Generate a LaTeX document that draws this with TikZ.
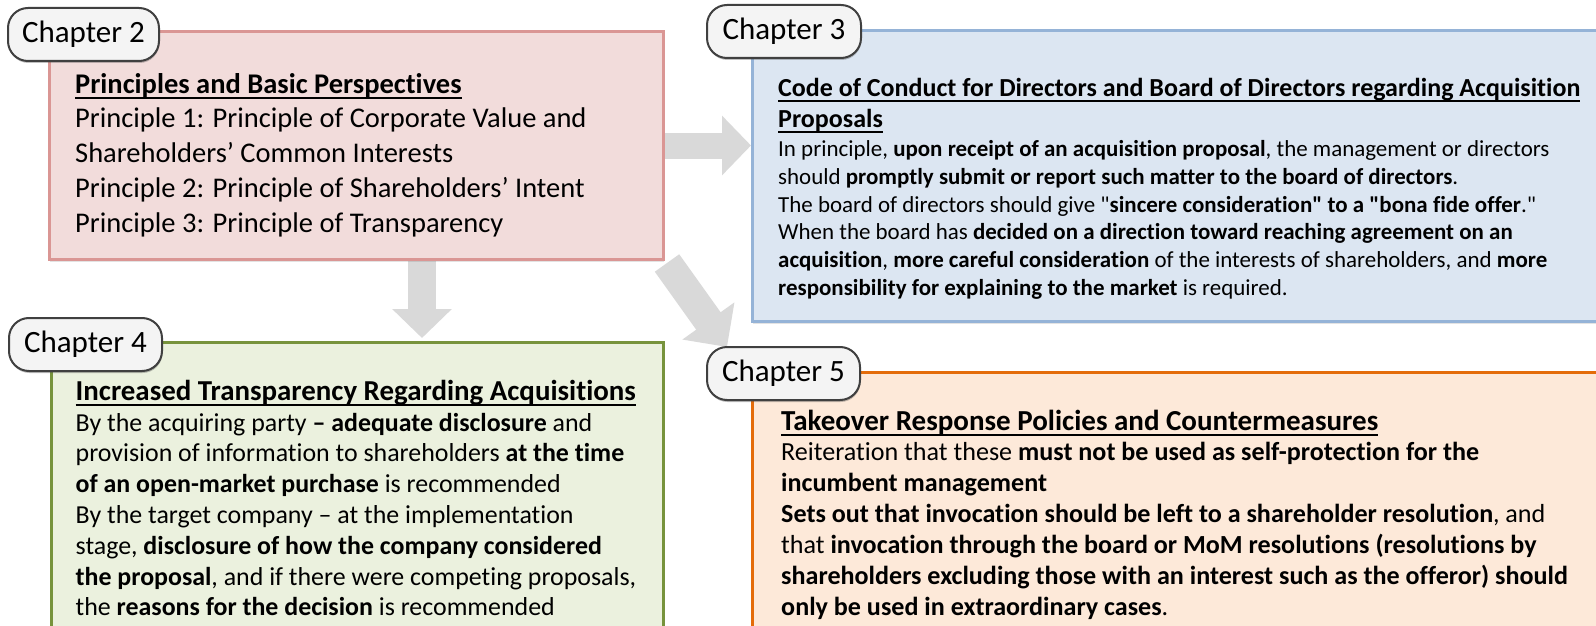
\documentclass[tikz,border=0pt]{standalone}
\usepackage{fontspec}
\setmainfont{Carlito}[Ligatures={TeXOff,NoCommon}]
\usetikzlibrary{arrows.meta,calc,shadows}

\definecolor{arrowgray}{HTML}{D9D9D9}
\definecolor{tabline}{HTML}{404040}
\definecolor{tabfill}{HTML}{F4F4F4}
\definecolor{redfill}{HTML}{F2DCDB}
\definecolor{redline}{HTML}{DA9694}
\definecolor{bluefill}{HTML}{DCE6F2}
\definecolor{blueline}{HTML}{95B3D7}
\definecolor{greenfill}{HTML}{EBF1DE}
\definecolor{greenline}{HTML}{77933C}
\definecolor{orangefill}{HTML}{FDE9D9}
\definecolor{orangeline}{HTML}{E46C0A}

% bold, underlined heading line
\newcommand\headline[1]{\leavevmode\begingroup\setbox0\hbox{\bfseries #1}\rlap{\copy0}\raisebox{-5.5pt}{\rule{\wd0}{2pt}}\endgroup}

\pgfdeclarelayer{bg}
\pgfdeclarelayer{arrowlayer}
\pgfsetlayers{bg,arrowlayer,main}

\tikzset{
  chapterbox/.style={anchor=north west, inner sep=0, line width=3pt,
    drop shadow={shadow xshift=0.5pt, shadow yshift=-2pt, opacity=0.18, fill=black!60}},
  tab/.style={anchor=north west, inner sep=0, draw=tabline, line width=2pt, fill=tabfill,
    rounded corners=20pt, minimum height=53pt,
    font=\fontsize{31}{37}\selectfont,
    drop shadow={shadow xshift=0.5pt, shadow yshift=-2pt, opacity=0.35, fill=black!70}},
  txt/.style={anchor=base west, inner sep=0},
  bigarrow/.style={draw=arrowgray, line width=28pt, -{Triangle[length=29pt,width=58pt]}}
}

\begin{document}
\begin{tikzpicture}[x=1pt,y=-1pt]
\useasboundingbox (0,0) rectangle (1596,626);
\clip (0,0) rectangle (1596,626);
\begin{pgfonlayer}{bg}
  \fill[white] (0,0) rectangle (1596,626);
\end{pgfonlayer}

% chapter panels
\node[chapterbox, draw=redline, fill=redfill, minimum width=614pt, minimum height=228pt] (ch2box) at (48,30) {};
\node[chapterbox, draw=blueline, fill=bluefill, minimum width=1000pt, minimum height=291pt] (ch3box) at (751,29) {};
\node[chapterbox, draw=greenline, fill=greenfill, minimum width=612pt, minimum height=400pt] (ch4box) at (50,341) {};
\node[chapterbox, draw=orangeline, fill=orangefill, minimum width=1000pt, minimum height=400pt] (ch5box) at (751,371) {};

% chapter tabs
\node[tab, minimum width=151pt] (ch2tab) at (7,7) {Chapter 2};
\node[tab, minimum width=154pt] (ch3tab) at (706,4) {Chapter 3};
\node[tab, minimum width=153pt] (ch4tab) at (8,317) {Chapter 4};
\node[tab, minimum width=153pt] (ch5tab) at (706,346) {Chapter 5};

% flow arrows between the chapters
\coordinate (downstart) at ($(ch2box.south west)+(374,0)$);
\coordinate (diagstart) at ($(ch2box.south east)+(2,2)$);
\coordinate (diagend) at ($(ch5tab.north west)+(21,1)$);
\begin{pgfonlayer}{arrowlayer}
  \draw[bigarrow, line width=26pt] (ch2box.east) -- (ch2box.east -| ch3box.west);
  \draw[bigarrow, shorten >=3pt] (downstart) -- (downstart |- ch4box.north);
  \draw[bigarrow, line width=30pt, -{Triangle[length=32pt,width=62pt]}] (diagstart) -- (diagend);
\end{pgfonlayer}

% Chapter 2 text
\node[txt, font=\fontsize{28.5}{34.8}\selectfont] (h2) at (75,93) {\headline{Principles and Basic Perspectives}};
\node[txt] (b2) at (75,128) {\parbox[t]{580pt}{\fontsize{28.5}{34.8}\selectfont
Principle 1: Principle of Corporate Value and\\
Shareholders’ Common Interests\\
Principle 2: Principle of Shareholders’ Intent\\
Principle 3: Principle of Transparency}};

% Chapter 3 text
\node[txt] (h3) at (778,96.7) {\parbox[t]{830pt}{\fontsize{26}{31}\selectfont
\headline{Code of Conduct for Directors and Board of Directors regarding Acquisition}\\
\headline{Proposals}}};
\node[txt] (b3) at (778,156.7) {\parbox[t]{830pt}{\fontsize{22.95}{27.7}\selectfont
In principle, \textbf{upon receipt of an acquisition proposal}, the management or directors\\
should \textbf{promptly submit or report such matter to the board of directors}.\\
The board of directors should give "\textbf{sincere consideration" to a "bona fide offer}."\\
When the board has \textbf{decided on a direction toward reaching agreement on an}\\
\textbf{acquisition}, \textbf{more careful consideration} of the interests of shareholders, and \textbf{more}\\
\textbf{responsibility for explaining to the market} is required.}};

% Chapter 4 text
\node[txt, font=\fontsize{28.9}{34}\selectfont] (h4) at (75.5,400) {\headline{Increased Transparency Regarding Acquisitions}};
\node[txt] (b4) at (75.5,431) {\parbox[t]{590pt}{\fontsize{25.9}{30.8}\selectfont
By the acquiring party \textbf{– adequate disclosure} and\\
provision of information to shareholders \textbf{at the time}\\
\textbf{of an open-market purchase} is recommended\\
By the target company – at the implementation\\
stage, \textbf{disclosure of how the company considered}\\
\textbf{the proposal}, and if there were competing proposals,\\
the \textbf{reasons for the decision} is recommended}};

% Chapter 5 text
\node[txt, font=\fontsize{29}{34}\selectfont] (h5) at (781,430.7) {\headline{Takeover Response Policies and Countermeasures}};
\node[txt] (b5) at (781,460) {\parbox[t]{810pt}{\fontsize{26.1}{31}\selectfont
Reiteration that these \textbf{must not be used as self-protection for the}\\
\textbf{incumbent management}\\
\textbf{Sets out that invocation should be left to a shareholder resolution}, and\\
that \textbf{invocation through the board or MoM resolutions (resolutions by}\\
\textbf{shareholders excluding those with an interest such as the offeror) should}\\
\textbf{only be used in extraordinary cases}.}};
\end{tikzpicture}
\end{document}
